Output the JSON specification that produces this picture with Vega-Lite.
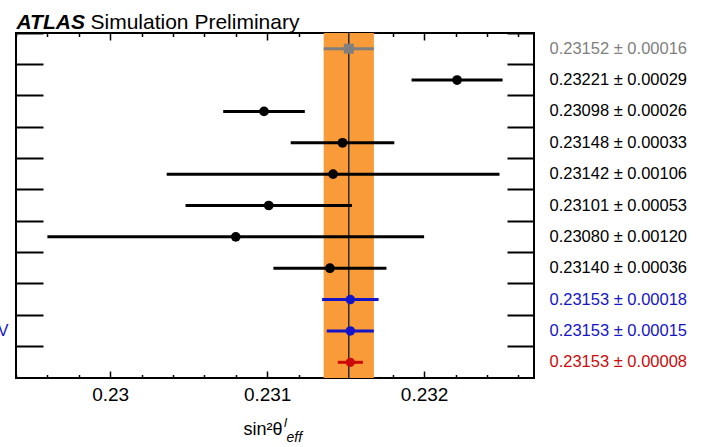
{
  "$schema": "https://vega.github.io/schema/vega-lite/v6.json",
  "width": 518,
  "height": 345,
  "autosize": {"type": "none"},
  "padding": {"left": 16, "top": 33, "right": 167, "bottom": 69},
  "background": "white",
  "config": {
    "font": "Liberation Sans",
    "view": {"stroke": "black", "strokeWidth": 2},
    "axis": {"grid": false, "domain": false}
  },
  "title": {
    "text": "l",
    "orient": "bottom",
    "anchor": "start",
    "frame": "group",
    "baseline": "top",
    "fontStyle": "italic",
    "fontWeight": "normal",
    "fontSize": 13,
    "dx": 268,
    "offset": -27,
    "color": "black"
  },
  "datasets": {
    "band": [{"center": 0.23152, "lo": 0.23136, "hi": 0.23168}],
    "meas": [
      {"label": "0.23152 ± 0.00016", "v": 0.23152, "e": 0.00016, "g": "comb"},
      {"label": "0.23221 ± 0.00029", "v": 0.23221, "e": 0.00029, "g": "meas"},
      {"label": "0.23098 ± 0.00026", "v": 0.23098, "e": 0.00026, "g": "meas"},
      {"label": "0.23148 ± 0.00033", "v": 0.23148, "e": 0.00033, "g": "meas"},
      {"label": "0.23142 ± 0.00106", "v": 0.23142, "e": 0.00106, "g": "meas"},
      {"label": "0.23101 ± 0.00053", "v": 0.23101, "e": 0.00053, "g": "meas"},
      {"label": "0.23080 ± 0.00120", "v": 0.2308, "e": 0.0012, "g": "meas"},
      {"label": "0.23140 ± 0.00036", "v": 0.2314, "e": 0.00036, "g": "meas"},
      {"label": "0.23153 ± 0.00018", "v": 0.23153, "e": 0.00018, "g": "blue"},
      {"label": "0.23153 ± 0.00015", "v": 0.23153, "e": 0.00015, "g": "blue"},
      {"label": "0.23153 ± 0.00008", "v": 0.23153, "e": 0.00008, "g": "red"}
    ]
  },
  "layer": [
    {
      "data": {"name": "band"},
      "mark": {"type": "rect", "color": "#f99b38", "opacity": 1},
      "encoding": {
        "x": {
          "field": "lo",
          "type": "quantitative",
          "scale": {"domain": [0.2294, 0.2327], "nice": false, "zero": false},
          "axis": {
            "orient": "bottom",
            "values": [0.2294, 0.2296, 0.2298, 0.23, 0.2302, 0.2304, 0.2306, 0.2308, 0.231, 0.2312, 0.2314, 0.2316, 0.2318, 0.232, 0.2322, 0.2324, 0.2326],
            "tickSize": {"condition": {"test": "datum.value == 0.23 || datum.value == 0.231 || datum.value == 0.232", "value": -7}, "value": -3.5},
            "tickColor": "black",
            "tickWidth": 1.5,
            "labelExpr": "datum.value == 0.23 ? '0.23' : datum.value == 0.231 ? '0.231' : datum.value == 0.232 ? '0.232' : ''",
            "labelFontSize": 19,
            "labelColor": "black",
            "labelPadding": 14,
            "labelOverlap": false,
            "labelFlush": false,
            "title": "sin²θ",
            "titleFontSize": 18,
            "titleFontWeight": "normal",
            "titleColor": "black",
            "titleAlign": "left",
            "titleBaseline": "alphabetic",
            "titleX": 227,
            "titleY": 56
          }
        },
        "x2": {"field": "hi"}
      }
    },
    {
      "data": {"name": "band"},
      "mark": {"type": "rule", "color": "#2a2a2a", "strokeWidth": 1.5},
      "encoding": {
        "x": {
          "field": "center",
          "type": "quantitative",
          "axis": {
            "orient": "top",
            "values": [0.2294, 0.2296, 0.2298, 0.23, 0.2302, 0.2304, 0.2306, 0.2308, 0.231, 0.2312, 0.2314, 0.2316, 0.2318, 0.232, 0.2322, 0.2324, 0.2326],
            "tickSize": {"condition": {"test": "datum.value == 0.23 || datum.value == 0.231 || datum.value == 0.232", "value": -7}, "value": -3.5},
            "tickColor": "black",
            "tickWidth": 1.5,
            "labels": false,
            "title": "Simulation Preliminary",
            "titleFontSize": 21,
            "titleFontWeight": "normal",
            "titleColor": "black",
            "titleAlign": "left",
            "titleBaseline": "alphabetic",
            "titleX": 74,
            "titleY": -5
          }
        }
      }
    },
    {
      "data": {"name": "meas"},
      "mark": {"type": "errorbar", "ticks": false, "thickness": 3},
      "encoding": {
        "x": {"field": "v", "type": "quantitative", "axis": null},
        "xError": {"field": "e"},
        "y": {
          "field": "label",
          "type": "nominal",
          "sort": null,
          "scale": {"paddingInner": 0, "paddingOuter": 0},
          "axis": {
            "orient": "left",
            "bandPosition": 0,
            "tickSize": -27,
            "tickColor": "black",
            "tickWidth": 2,
            "labelExpr": "datum.value == '0.23153 ± 0.00015' ? 'GeV' : ''",
            "labelColor": "#1515c8",
            "labelFontSize": 16,
            "labelPadding": 35,
            "title": "ATLAS",
            "titleAngle": 0,
            "titleX": 0,
            "titleY": -5,
            "titleAlign": "left",
            "titleBaseline": "alphabetic",
            "titleFontSize": 21,
            "titleFontWeight": "bold",
            "titleFontStyle": "italic",
            "titleColor": "black"
          }
        },
        "color": {
          "field": "g",
          "type": "nominal",
          "scale": {"domain": ["comb", "meas", "blue", "red"], "range": ["#7f7f7f", "#000000", "#1515c8", "#cc0a0a"]},
          "legend": null
        }
      }
    },
    {
      "data": {"name": "meas"},
      "mark": {"type": "point", "filled": true, "opacity": 1},
      "encoding": {
        "x": {"field": "v", "type": "quantitative", "axis": null},
        "y": {
          "field": "label",
          "type": "nominal",
          "sort": null,
          "axis": {
            "orient": "right",
            "bandPosition": 0,
            "tickSize": -27,
            "tickColor": "black",
            "tickWidth": 2,
            "labelFontSize": 16.5,
            "labelAlign": "left",
            "labelPadding": 42,
            "labelColor": {
              "condition": [
                {"test": "datum.value == '0.23152 ± 0.00016'", "value": "#7f7f7f"},
                {"test": "datum.value == '0.23153 ± 0.00018' || datum.value == '0.23153 ± 0.00015'", "value": "#1515c8"},
                {"test": "datum.value == '0.23153 ± 0.00008'", "value": "#cc0a0a"}
              ],
              "value": "black"
            },
            "title": "eff",
            "titleAngle": 0,
            "titleX": -248,
            "titleY": 408,
            "titleAlign": "left",
            "titleBaseline": "alphabetic",
            "titleFontSize": 14,
            "titleFontWeight": "normal",
            "titleFontStyle": "italic",
            "titleColor": "black"
          }
        },
        "color": {
          "field": "g",
          "type": "nominal",
          "scale": {"domain": ["comb", "meas", "blue", "red"], "range": ["#7f7f7f", "#000000", "#1515c8", "#cc0a0a"]},
          "legend": null
        },
        "shape": {
          "field": "g",
          "type": "nominal",
          "scale": {"domain": ["comb", "meas", "blue", "red"], "range": ["square", "circle", "circle", "circle"]},
          "legend": null
        },
        "size": {
          "field": "g",
          "type": "nominal",
          "scale": {"domain": ["comb", "meas", "blue", "red"], "range": [100, 85, 85, 85]},
          "legend": null
        }
      }
    }
  ],
  "resolve": {"axis": {"x": "independent", "y": "independent"}}
}
